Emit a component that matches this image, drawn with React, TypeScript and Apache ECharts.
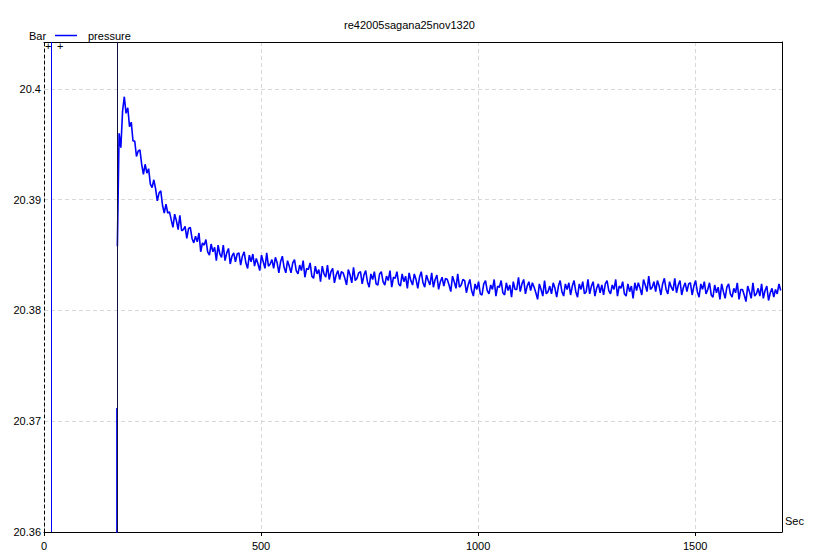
import React, { useEffect, useRef } from "react";
import * as echarts from "echarts";

// Chart texts
const titleText = "re42005sagana25nov1320";
const seriesName = "pressure";
const yUnit = "Bar";
const xUnit = "Sec";

// Axis ranges / ticks
const xMin = 0;
const xMax = 1700;
const xInterval = 500;
const yMin = 20.36;
const yMax = 20.40424;
const yInterval = 0.01;

// Vertical marker lines (seconds)
const markerTimes = [16, 168];

// Initial spike at 168 s (Bar)
const spikeTimes = [168, 168];
const spikeValues = [20.355, 20.3712];

// Main recording: first sample time and sample interval (s)
const mainStart = 169;
const mainStep = 4;
const pressure = [
  20.3858, 20.396, 20.3947, 20.398, 20.3993, 20.3978, 20.3983, 20.3966, 20.397, 20.3953,
  20.3953, 20.3939, 20.3944, 20.3945, 20.3932, 20.3923, 20.3932, 20.3924, 20.3928, 20.3914,
  20.3911, 20.3918, 20.391, 20.3899, 20.3906, 20.3908, 20.3895, 20.3888, 20.3896, 20.3888,
  20.3889, 20.3882, 20.3875, 20.3887, 20.3881, 20.3873, 20.3886, 20.3872, 20.3873, 20.3876,
  20.3865, 20.3874, 20.3875, 20.3865, 20.3861, 20.3867, 20.3862, 20.387, 20.3853, 20.3861,
  20.3859, 20.3864, 20.3853, 20.385, 20.386, 20.3853, 20.3857, 20.3845, 20.3859, 20.3851,
  20.3848, 20.3859, 20.3845, 20.3852, 20.3856, 20.3842, 20.3849, 20.3852, 20.3844, 20.3851,
  20.3852, 20.3841, 20.3849, 20.3853, 20.3843, 20.3838, 20.385, 20.3844, 20.3851, 20.384,
  20.3847, 20.3842, 20.3836, 20.385, 20.3844, 20.3838, 20.3852, 20.384, 20.3842, 20.3846,
  20.3838, 20.3848, 20.3843, 20.3834, 20.3844, 20.3849, 20.3839, 20.3834, 20.3845, 20.384,
  20.3834, 20.3843, 20.3846, 20.3836, 20.3833, 20.3841, 20.3836, 20.3845, 20.383, 20.3838,
  20.3837, 20.3843, 20.3831, 20.3829, 20.384, 20.3833, 20.3837, 20.3826, 20.384, 20.3833,
  20.383, 20.3841, 20.3828, 20.3835, 20.3838, 20.3825, 20.3832, 20.3836, 20.3828, 20.3835,
  20.3834, 20.3829, 20.3823, 20.3837, 20.3832, 20.3825, 20.3839, 20.3827, 20.3829, 20.3834,
  20.3835, 20.3824, 20.3832, 20.3836, 20.3826, 20.3821, 20.3833, 20.3828, 20.3835, 20.3824,
  20.3823, 20.3833, 20.3835, 20.3826, 20.3823, 20.3831, 20.3827, 20.3836, 20.3821, 20.383,
  20.3829, 20.3835, 20.3824, 20.3822, 20.3833, 20.3826, 20.3831, 20.382, 20.3834, 20.3827,
  20.3823, 20.3833, 20.3828, 20.382, 20.383, 20.3835, 20.3825, 20.3821, 20.3832, 20.3827,
  20.3823, 20.3834, 20.3821, 20.3828, 20.3832, 20.3819, 20.3826, 20.383, 20.3822, 20.3829,
  20.3828, 20.3823, 20.3817, 20.3831, 20.3826, 20.382, 20.3833, 20.3821, 20.3823, 20.3828,
  20.3827, 20.3816, 20.3823, 20.3828, 20.3818, 20.3813, 20.3824, 20.3819, 20.3826, 20.3815,
  20.3814, 20.3824, 20.3827, 20.3818, 20.3815, 20.3823, 20.3819, 20.3828, 20.3813, 20.3822,
  20.3821, 20.3827, 20.3816, 20.3814, 20.3825, 20.3818, 20.3823, 20.3812, 20.3826, 20.3819,
  20.3819, 20.383, 20.3817, 20.3824, 20.3828, 20.3815, 20.3822, 20.3826, 20.3818, 20.3825,
  20.3821, 20.3816, 20.381, 20.3824, 20.3819, 20.3813, 20.3827, 20.3815, 20.3817, 20.3822,
  20.3815, 20.3825, 20.382, 20.3812, 20.3822, 20.3827, 20.3817, 20.3813, 20.3824, 20.3819,
  20.3825, 20.3814, 20.3822, 20.3827, 20.3817, 20.3812, 20.3824, 20.3819, 20.3826, 20.3815,
  20.3817, 20.3828, 20.3815, 20.3822, 20.3826, 20.3813, 20.382, 20.3824, 20.3816, 20.3823,
  20.3814, 20.3824, 20.3827, 20.3818, 20.3815, 20.3823, 20.3819, 20.3828, 20.3813, 20.3822,
  20.382, 20.3826, 20.3815, 20.3813, 20.3824, 20.3817, 20.3822, 20.3811, 20.3825, 20.3818,
  20.3825, 20.382, 20.3814, 20.3828, 20.3823, 20.3817, 20.3831, 20.3819, 20.3821, 20.3826,
  20.3817, 20.3827, 20.3822, 20.3814, 20.3824, 20.3829, 20.3819, 20.3815, 20.3826, 20.3821,
  20.3818, 20.3829, 20.3816, 20.3823, 20.3827, 20.3814, 20.3821, 20.3825, 20.3817, 20.3824,
  20.3825, 20.3814, 20.3822, 20.3827, 20.3817, 20.3812, 20.3824, 20.3819, 20.3826, 20.3815,
  20.3819, 20.3825, 20.3814, 20.3812, 20.3823, 20.3816, 20.3821, 20.381, 20.3824, 20.3817,
  20.3811, 20.3821, 20.3824, 20.3815, 20.3812, 20.382, 20.3816, 20.3825, 20.381, 20.3819,
  20.3819, 20.3814, 20.3808, 20.3822, 20.3817, 20.3811, 20.3825, 20.3813, 20.3815, 20.382,
  20.3813, 20.3824, 20.3811, 20.3818, 20.3822, 20.3809, 20.3816, 20.382, 20.3812, 20.3819,
  20.3815, 20.3824, 20.3818,
];

const FONT = "'Liberation Sans', Arial, sans-serif";

export default function App() {
  const ref = useRef<HTMLDivElement>(null);

  useEffect(() => {
    if (!ref.current) return;
    const chart = echarts.init(ref.current, null, { renderer: "svg" });

    const data: any[] = [];
    spikeTimes.forEach((t, i) => data.push([t, spikeValues[i]]));
    data.push([168.5, "-"]);
    pressure.forEach((v, i) => data.push([mainStart + i * mainStep, v]));

    const fmtY = (v: number) => {
      const k = v / yInterval;
      if (Math.abs(k - Math.round(k)) > 1e-6) return "";
      return String(parseFloat(v.toFixed(2)));
    };

    chart.setOption({
      animation: false,
      backgroundColor: "#ffffff",
      title: {
        text: titleText,
        left: "center",
        top: 14,
        textStyle: { fontFamily: FONT, fontSize: 11, fontWeight: "normal", color: "#000" },
      },
      legend: {
        left: 55,
        top: 30,
        padding: 0,
        icon: "rect",
        itemWidth: 22,
        itemHeight: 1.5,
        itemStyle: { color: "#0000ff" },
        data: [seriesName],
        textStyle: { fontFamily: FONT, fontSize: 11, color: "#000", padding: [0, 0, 0, 6] },
      },
      grid: { left: 44, right: 37, top: 42, bottom: 28, containLabel: false },
      xAxis: [
        {
          type: "value",
          min: xMin,
          max: xMax,
          interval: xInterval,
          axisLine: { show: true, lineStyle: { color: "#000", width: 1 } },
          axisTick: { show: true, length: 4, lineStyle: { color: "#000" } },
          axisLabel: {
            fontFamily: FONT,
            fontSize: 11,
            color: "#000",
            margin: 8,
            showMaxLabel: false,
            formatter: (v: number) => String(v),
          },
          splitLine: { show: true, lineStyle: { color: "#d8d8d8", type: [4, 3] } },
        },
        {
          type: "value",
          position: "top",
          min: xMin,
          max: xMax,
          axisLine: { show: true, onZero: false, lineStyle: { color: "#000", width: 1 } },
          axisTick: { show: false },
          axisLabel: { show: false },
          splitLine: { show: false },
        },
      ],
      yAxis: [
        {
          type: "value",
          min: yMin,
          max: yMax,
          interval: yInterval,
          axisLine: { show: true, onZero: false, lineStyle: { color: "#000", width: 1, type: [3, 3] } },
          axisTick: { show: false },
          axisLabel: {
            fontFamily: FONT,
            fontSize: 11,
            color: "#000",
            margin: 3,
            formatter: fmtY,
            showMaxLabel: false,
          },
          splitLine: { show: true, lineStyle: { color: "#d8d8d8", type: [4, 3] } },
        },
        {
          type: "value",
          position: "right",
          min: yMin,
          max: yMax,
          axisLine: { show: true, onZero: false, lineStyle: { color: "#000", width: 1 } },
          axisTick: { show: false },
          axisLabel: { show: false },
          splitLine: { show: false },
        },
      ],
      series: [
        {
          name: seriesName,
          type: "line",
          xAxisIndex: 0,
          yAxisIndex: 0,
          data,
          symbol: "none",
          connectNulls: false,
          clip: true,
          lineStyle: { color: "#0000ff", width: 1.6 },
          itemStyle: { color: "#0000ff" },
          markLine: {
            silent: true,
            symbol: "none",
            label: { show: false },
            data: [
              { xAxis: markerTimes[0], lineStyle: { color: "#0000ff", width: 1, type: "solid" } },
              { xAxis: markerTimes[1], lineStyle: { color: "#101040", width: 1, type: "solid" } },
            ],
          },
        },
      ],
      graphic: [
        {
          type: "text",
          left: 29,
          top: 30,
          style: { text: yUnit, font: `11px ${FONT}`, fill: "#000" },
        },
        {
          type: "text",
          left: 785,
          top: 515,
          style: { text: xUnit, font: `11px ${FONT}`, fill: "#000" },
        },
        {
          type: "text",
          left: 45,
          top: 40,
          style: { text: "+", font: `11px ${FONT}`, fill: "#000" },
        },
        {
          type: "text",
          left: 57,
          top: 40,
          style: { text: "+", font: `11px ${FONT}`, fill: "#000" },
        },
      ],
    });

    return () => chart.dispose();
  }, []);

  return (
    <div
      ref={ref}
      style={{ position: "fixed", left: 0, top: 0, width: 819, height: 560, background: "#fff" }}
    />
  );
}
